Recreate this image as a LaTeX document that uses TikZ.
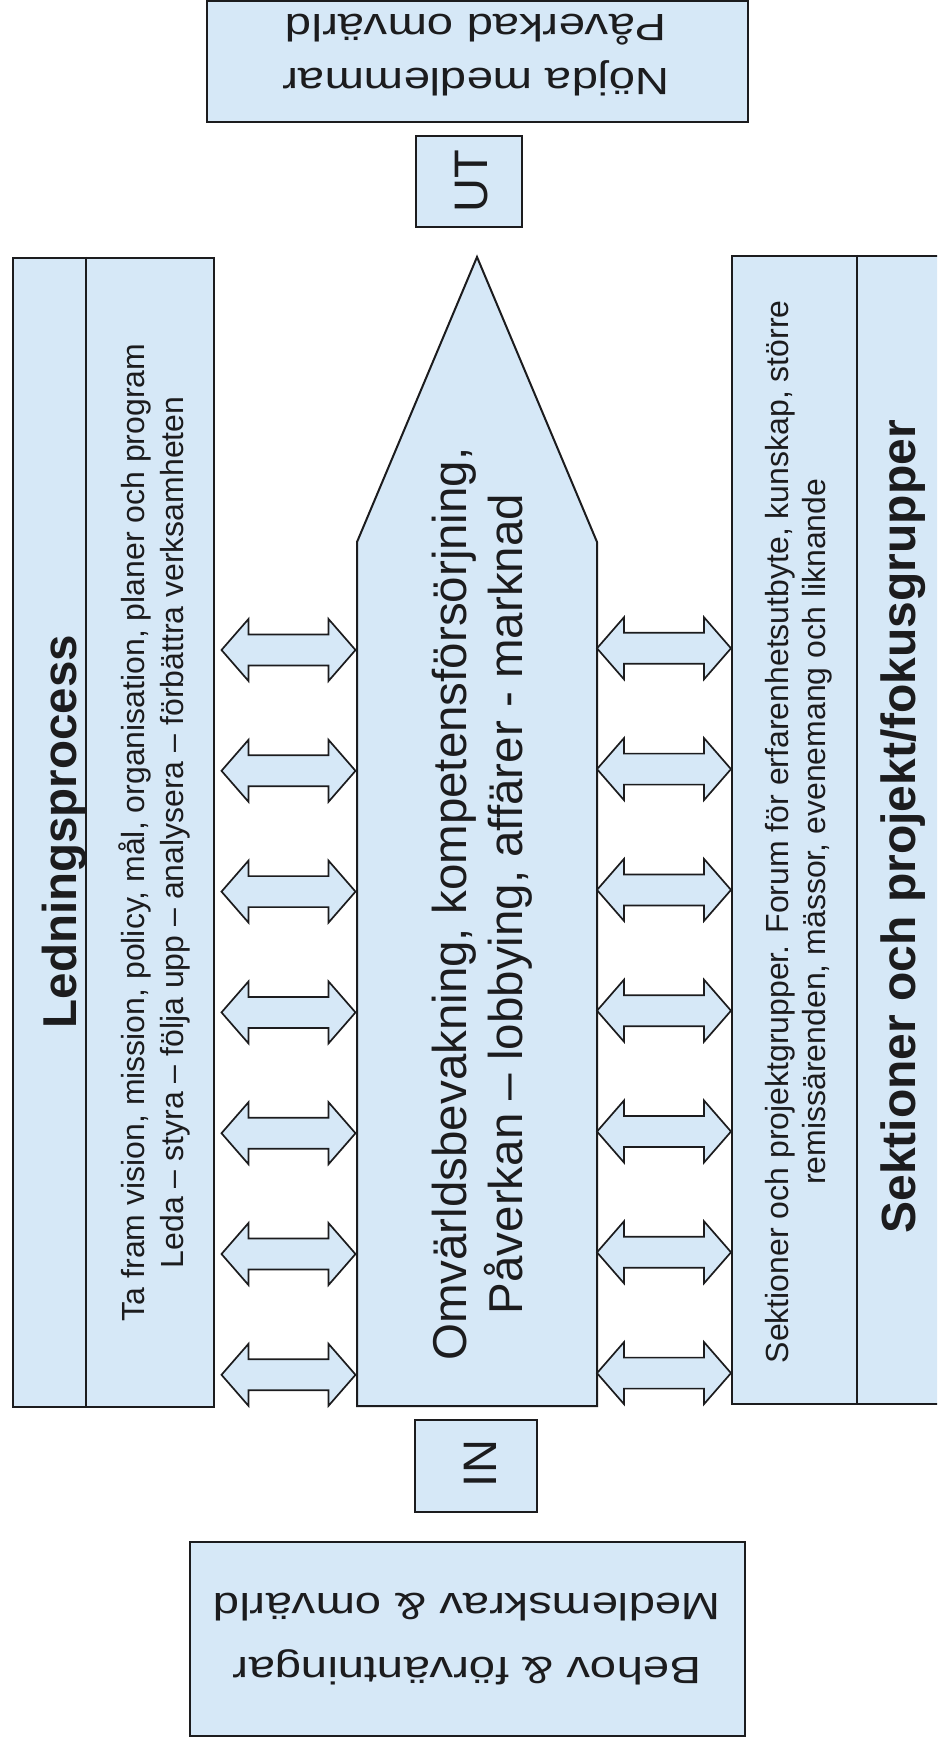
\documentclass[tikz,border=0pt]{standalone}
\usepackage{fontspec}
\setmainfont{Liberation Sans}
\newfontfamily\widefont[FakeStretch=1.245]{Liberation Sans}
\definecolor{boxfill}{RGB}{214,232,247}
\definecolor{ink}{RGB}{28,28,30}
\tikzset{
  panel/.style={draw=ink, fill=boxfill, line width=2pt, rectangle, inner sep=0pt},
  divider/.style={draw=ink, line width=2pt},
  arrowshape/.style={draw=ink, fill=boxfill, line width=1.7pt, line join=miter},
  label/.style={text=ink, inner sep=0pt, outer sep=0pt},
  dblarrow/.pic={
    \path[arrowshape] (0,0) -- (27,-31) -- (27,-15.5) -- (107,-15.5) -- (107,-31)
      -- (134,0) -- (107,31) -- (107,15.5) -- (27,15.5) -- (27,31) -- cycle;
  }
}
\begin{document}
\begin{tikzpicture}[x=1pt,y=-1pt]
\useasboundingbox (0,0) rectangle (937,1744);
\clip (0,0) rectangle (937,1744);
\fill[white] (0,0) rectangle (937,1744);

% top and bottom boxes
\node[panel, minimum width=541.5pt, minimum height=121pt] (outbox) at (477.25,61.25) {};
\node[label, rotate=180, align=center, font={\widefont\fontsize{38}{54.3}\selectfont}]
  (outtext) at (476,54.75) {Nöjda medlemmar\\Påverkad omvärld};

\node[panel, minimum width=555pt, minimum height=194pt] (inboxbig) at (467.5,1639) {};
\node[label, rotate=180, align=center, font={\widefont\fontsize{38}{63.4}\selectfont}]
  (intext) at (467,1638.9) {Behov \& förväntningar\\Medlemskrav \& omvärld};

% UT and IN boxes
\node[panel, minimum width=106pt, minimum height=91.5pt] (utbox) at (469,181.75) {};
\node[label, rotate=90, anchor=base, font={\fontsize{47}{56}\selectfont}] (uttext) at (487,181.5) {UT};

\node[panel, minimum width=122pt, minimum height=92pt] (inbox) at (476,1466) {};
\node[label, rotate=90, anchor=base, font={\fontsize{47}{56}\selectfont}] (intxt) at (496,1463.5) {IN};

% left box
\node[panel, minimum width=201.5pt, minimum height=1149pt] (left) at (113.25,832.5) {};
\draw[divider] ([xshift=74.5pt]left.north west) coordinate (ldtop) -- ([xshift=74.5pt]left.south west) coordinate (ldbot);
\node[label, rotate=90, anchor=base, font={\fontsize{47.5}{57}\selectfont\bfseries}] (ledtitle) at (76,831.7) {Ledningsprocess};
\node[label, rotate=90, align=center, font={\fontsize{32}{39.4}\selectfont}] (ledtext) at (154.35,832.3)
  {Ta fram vision, mission, policy, mål, organisation, planer och program\\Leda – styra – följa upp – analysera – förbättra verksamheten};

% right box (runs past the right edge)
\node[panel, minimum width=213pt, minimum height=1148pt] (right) at (838.5,830) {};
\draw[divider] ([xshift=126pt]right.north west) coordinate (rdtop) -- ([xshift=126pt]right.south west) coordinate (rdbot);
\node[label, rotate=90, align=center, font={\fontsize{32}{36.6}\selectfont}] (righttext) at (798.65,831.7)
  {Sektioner och projektgrupper. Forum för erfarenhetsutbyte, kunskap, större\\remissärenden, mässor, evenemang och liknande};
\node[label, rotate=90, anchor=base, font={\fontsize{48}{57}\selectfont\bfseries}] (sektitle) at (915.3,826.7) {Sektioner och projekt/fokusgrupper};

% middle arrow
\coordinate (mbl) at (357,1406);
\coordinate (mtl) at (357,542);
\coordinate (mtip) at (477,257);
\coordinate (mtr) at (597,542);
\coordinate (mbr) at (597,1406);
\path[panel] (mbl) -- (mtl) -- (mtip) -- (mtr) -- (mbr) -- cycle;
\node[label, rotate=90, align=center, font={\fontsize{47.5}{55.6}\selectfont}] (midtext) at (482,904)
  {Omvärldsbevakning, kompetensförsörjning,\\Påverkan – lobbying, affärer - marknad};

% double arrows
\foreach \k in {0,...,6}{
  \pic at (221.5,{650+120.8*\k}) {dblarrow};
  \pic at (597,{648.3+120.8*\k}) {dblarrow};
}
\end{tikzpicture}
\end{document}
